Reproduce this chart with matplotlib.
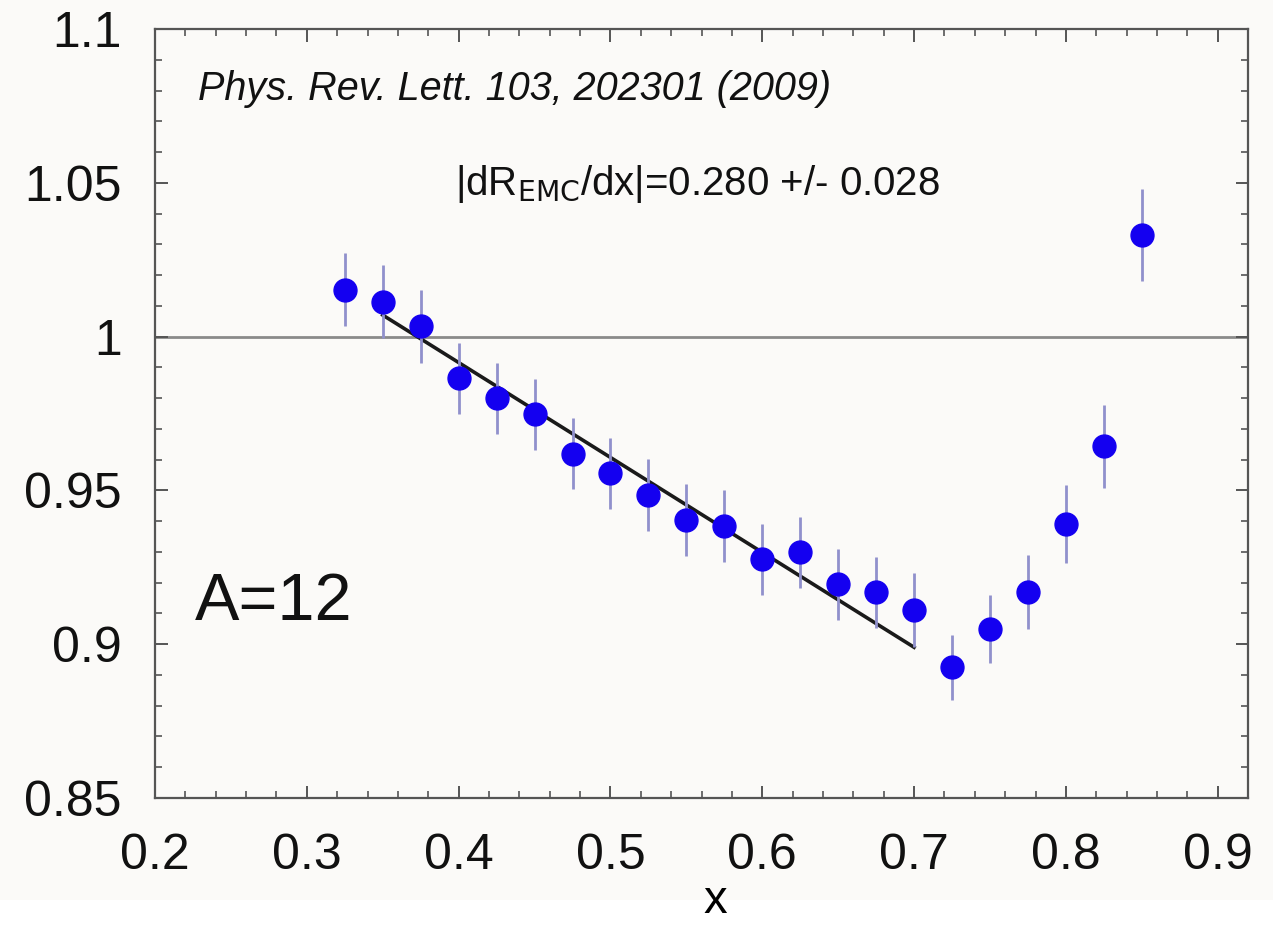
import matplotlib
matplotlib.use("Agg")
import matplotlib.pyplot as plt
from matplotlib.ticker import MultipleLocator
from matplotlib.patches import Rectangle

x_vals = [0.325, 0.35, 0.375, 0.40, 0.425, 0.45, 0.475, 0.50, 0.525, 0.55, 0.575,
          0.60, 0.625, 0.65, 0.675, 0.70, 0.725, 0.75, 0.775, 0.80, 0.825, 0.85]
ratio = [1.0153, 1.0114, 1.0033, 0.9864, 0.9799, 0.9747, 0.9620, 0.9555, 0.9484, 0.9403, 0.9383,
         0.9276, 0.9299, 0.9195, 0.9169, 0.9110, 0.8925, 0.9049, 0.9169, 0.9390, 0.9643, 1.0331]
errors = [0.012, 0.012, 0.012, 0.0115, 0.0115, 0.0115, 0.0117, 0.0117, 0.0117, 0.0117, 0.0117,
          0.0115, 0.0115, 0.0115, 0.0115, 0.012, 0.0106, 0.011, 0.012, 0.0127, 0.0135, 0.015]
fit_x = [0.35, 0.70]
fit_y = [1.007, 0.899]
x_ticks = [0.2, 0.3, 0.4, 0.5, 0.6, 0.7, 0.8, 0.9]
x_ticklabels = ["0.2", "0.3", "0.4", "0.5", "0.6", "0.7", "0.8", "0.9"]
y_ticks = [0.85, 0.9, 0.95, 1.0, 1.05, 1.1]
y_ticklabels = ["0.85", "0.9", "0.95", "1", "1.05", "1.1"]

FONT = "Liberation Sans"
bg = "#fbfaf8"

fig = plt.figure(figsize=(12.73, 9.25), dpi=100, facecolor=bg)
ax = fig.add_axes([0.1218, 0.1373, 0.9804 - 0.1218, 0.9686 - 0.1373])
ax.set_facecolor(bg)

ax.axhline(1.0, color="#8a8a8a", lw=2.0, zorder=1)
ax.plot(fit_x, fit_y, color="#1a1a1a", lw=2.6, zorder=3)
ax.errorbar(x_vals, ratio, yerr=errors, fmt="o", color="#1400f0", ms=16.5,
            ecolor="#9090cc", elinewidth=2.0, capsize=0, zorder=4)

ax.set_xlim(0.2, 0.92)
ax.set_ylim(0.85, 1.1)
ax.xaxis.set_minor_locator(MultipleLocator(0.02))
ax.yaxis.set_minor_locator(MultipleLocator(0.01))
ax.set_xticks(x_ticks)
ax.set_xticklabels(x_ticklabels)
ax.set_yticks(y_ticks)
ax.set_yticklabels(y_ticklabels)

for s in ax.spines.values():
    s.set_color("#555555")
    s.set_linewidth(1.6)
ax.tick_params(which="both", direction="in", top=True, right=True, color="#555555")
ax.tick_params(which="major", length=9, width=1.4, labelsize=36)
ax.tick_params(axis="x", which="major", pad=25)
ax.tick_params(axis="y", which="major", pad=24)
ax.tick_params(which="minor", length=5, width=1.2)
for lab in ax.get_xticklabels() + ax.get_yticklabels():
    lab.set_fontfamily(FONT)
    lab.set_color("#111111")

fig.text(198 / 1273, 1 - 100 / 925, "Phys. Rev. Lett. 103, 202301 (2009)", fontsize=28.5,
         style="italic", family=FONT, color="#111111", ha="left", va="baseline")
fig.text(697 / 1273, 1 - 195 / 925, r"|dR$_{\mathrm{EMC}}$/dx|=0.280 +/- 0.028", fontsize=29,
         family=FONT, color="#111111", ha="center", va="baseline")
fig.text(195 / 1273, 1 - 620 / 925, "A=12", fontsize=48, family=FONT, color="#111111",
         ha="left", va="baseline")

fig.patches.append(Rectangle((0, 0), 1, 25 / 925, transform=fig.transFigure,
                             facecolor="white", edgecolor="none", zorder=0))
fig.text(715 / 1273, 1 - 913 / 925, "x", fontsize=34, family=FONT, color="black",
         ha="center", va="baseline")

fig.savefig("out.png", dpi=100, facecolor=bg)
